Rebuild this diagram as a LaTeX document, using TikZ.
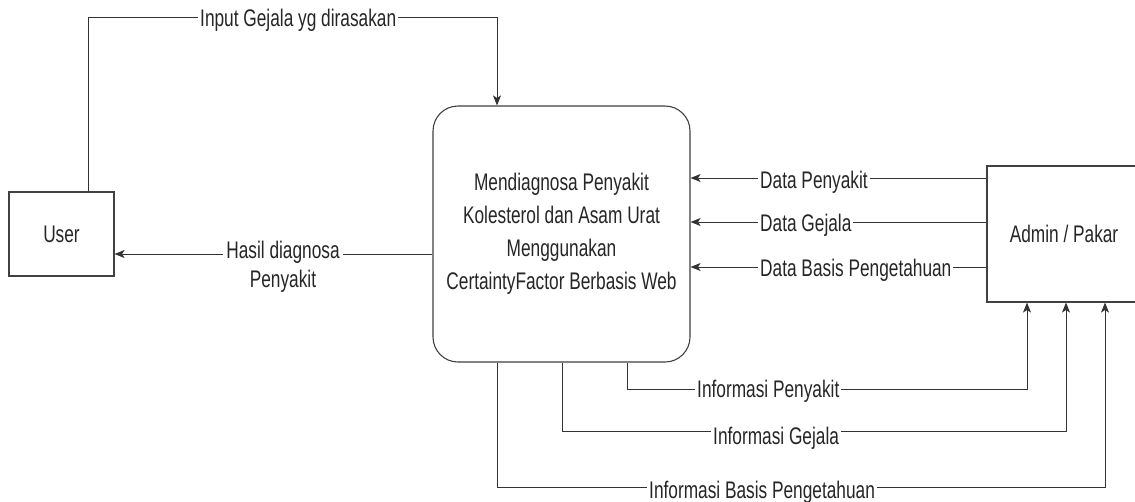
\documentclass[tikz,border=0pt]{standalone}
\usepackage{fontspec}
\setmainfont{Liberation Sans}[FakeStretch=0.72]
\usetikzlibrary{arrows.meta,calc}

\begin{document}
\begin{tikzpicture}[x=1pt,y=-1pt,
  txt/.style={font=\fontsize{24}{28}\selectfont, text=black!85},
  box/.style={draw=black!75, line width=1.1pt, fill=white, inner sep=0pt, txt},
  flow/.style={draw=black!80, line width=1pt},
  tip/.style={-{Stealth[length=10pt,width=8pt,inset=2.5pt]}},
  lbl/.style={txt, fill=white, inner xsep=2pt, inner ysep=1pt, anchor=base west}]

\useasboundingbox (0,0) rectangle (1135,501);
\clip (0,0) rectangle (1135,501);

% external entities and the process
\node[box, minimum width=105pt, minimum height=84pt] (user) at (61.5,234) {User};
\node[box, rounded corners=25pt, minimum width=257pt, minimum height=256pt,
      align=center, font=\fontsize{24}{33}\selectfont] (proc) at (561.5,234)
      {Mendiagnosa Penyakit\\Kolesterol dan Asam Urat\\Menggunakan\\CertaintyFactor Berbasis Web};
\node[box, minimum width=154pt, minimum height=136pt] (admin) at (1064,234) {Admin / Pakar};

% user input
\coordinate (inA) at (88,17);
\coordinate (inB) at (497,17);
\draw[flow,tip] (user.north -| inA) -- (inA) -- (inB) -- (proc.north -| inB);
\node[lbl] (lin) at (198,26) {Input Gejala yg dirasakan};

% diagnosis result
\coordinate (hs) at (433,254);
\draw[flow,tip] (proc.west |- hs) -- (user.east |- hs);
\node[txt, fill=white, inner xsep=3pt, inner ysep=1pt, align=center,
      font=\fontsize{24}{29}\selectfont] (lhasil) at (283,266.5) {Hasil diagnosa\\Penyakit};

% data from admin
\foreach \yy/\nm/\bl/\lab in {178/dp/188/Data Penyakit, 222/dg/231/Data Gejala,
                              267/db/276/Data Basis Pengetahuan} {
  \coordinate (\nm) at (0,\yy);
  \draw[flow,tip] (admin.west |- \nm) -- (proc.east |- \nm);
  \node[lbl] (l\nm) at (758,\bl) {\lab};
}

% information back to admin
\foreach \xa/\yy/\xb/\nm/\lx/\bl/\lab in {627/389/1027/ip/695/397/Informasi Penyakit,
                                          562/431/1066/ig/711/444/Informasi Gejala,
                                          497/487/1105/ib/647/498/Informasi Basis Pengetahuan} {
  \coordinate (\nm A) at (\xa,\yy);
  \coordinate (\nm B) at (\xb,\yy);
  \draw[flow,tip] (proc.south -| \nm A) -- (\nm A) -- (\nm B) -- (admin.south -| \nm B);
  \node[lbl] (l\nm) at (\lx,\bl) {\lab};
}
\end{tikzpicture}
\end{document}
